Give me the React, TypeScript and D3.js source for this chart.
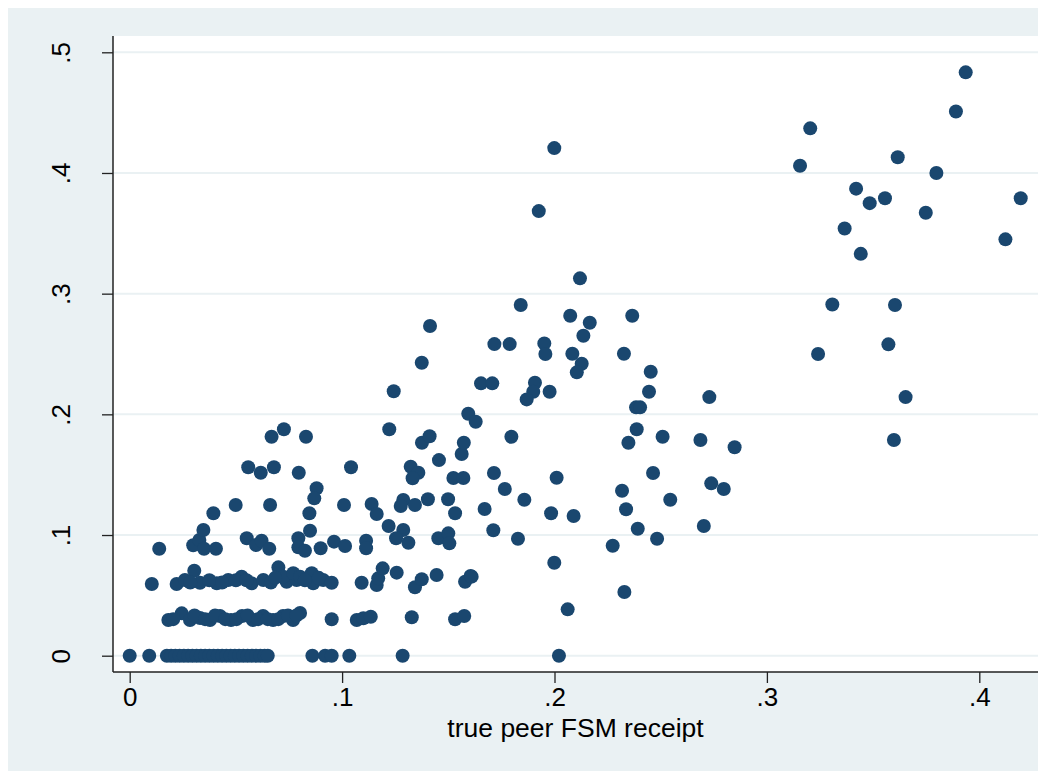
import React, { useRef, useEffect } from 'react';
import * as d3 from 'd3';

// points as [true peer FSM receipt, y]
const rowZero: number[][] = [
  [0, 0], [0.0092, 0], [0.0175, 0], [0.0195, 0], [0.0215, 0], [0.0235, 0], [0.0255, 0],
  [0.0275, 0], [0.0295, 0], [0.0315, 0], [0.0335, 0], [0.0355, 0], [0.0375, 0], [0.0395, 0],
  [0.0415, 0], [0.0435, 0], [0.0455, 0], [0.0475, 0], [0.0495, 0], [0.0515, 0], [0.0535, 0],
  [0.0555, 0], [0.0575, 0], [0.0595, 0], [0.0615, 0], [0.0635, 0], [0.065, 0],
  [0.086, 0], [0.092, 0], [0.0951, 0], [0.1034, 0], [0.1285, 0], [0.2021, 0],
];

const rowOne: number[][] = [
  [0.0182, 0.0296], [0.0245, 0.0351], [0.0284, 0.0296], [0.0331, 0.0312], [0.0378, 0.0296],
  [0.0425, 0.0329], [0.0477, 0.0296], [0.0529, 0.0329], [0.058, 0.0296], [0.0628, 0.0329],
  [0.0675, 0.0296], [0.0722, 0.0329], [0.0769, 0.0296], [0.0802, 0.0354], [0.0951, 0.0302],
  [0.1069, 0.0296], [0.11, 0.031], [0.1135, 0.0323], [0.1328, 0.0318], [0.1532, 0.0302],
  [0.1575, 0.0329], [0.0205, 0.0303], [0.0305, 0.0333], [0.0355, 0.0303], [0.0402, 0.0333],
  [0.045, 0.0303], [0.0503, 0.0303], [0.0555, 0.0333], [0.0605, 0.0303], [0.065, 0.0303],
  [0.07, 0.0303], [0.0745, 0.0333], [0.0785, 0.0333],
];

const rowTwo: number[][] = [
  [0.0104, 0.0594], [0.0221, 0.0594], [0.026, 0.0627], [0.0304, 0.0704], [0.0331, 0.0605],
  [0.041, 0.06], [0.0464, 0.0627], [0.0527, 0.0655], [0.0574, 0.06], [0.0629, 0.0627],
  [0.07, 0.0732], [0.0739, 0.0613], [0.0786, 0.0627], [0.0723, 0.0655], [0.077, 0.0683],
  [0.0802, 0.0655], [0.0857, 0.0683], [0.0864, 0.06], [0.0911, 0.0627], [0.0951, 0.0605],
  [0.1092, 0.0605], [0.1163, 0.0586], [0.117, 0.0641], [0.1191, 0.0724], [0.1257, 0.0688],
  [0.1343, 0.0567], [0.1375, 0.0633], [0.1445, 0.0669], [0.1579, 0.0613], [0.1605, 0.066],
  [0.0285, 0.0606], [0.0375, 0.0625], [0.0435, 0.0606], [0.05, 0.0625], [0.055, 0.0625],
  [0.0665, 0.0606], [0.0685, 0.0645], [0.0825, 0.0625], [0.089, 0.0645],
];

const lowLeft: number[][] = [
  [0.0139, 0.0886], [0.0299, 0.0915], [0.0328, 0.0959], [0.035, 0.0886], [0.0406, 0.0886],
  [0.0551, 0.0973], [0.0595, 0.0917], [0.0621, 0.0953], [0.0657, 0.0886], [0.0347, 0.1041],
  [0.0394, 0.118], [0.0499, 0.1249], [0.0661, 0.1249], [0.0558, 0.1561], [0.0617, 0.1516],
  [0.0679, 0.1561], [0.0668, 0.1814], [0.0726, 0.1876], [0.083, 0.1814], [0.0796, 0.1516],
  [0.088, 0.1387], [0.0869, 0.1304], [0.0846, 0.118], [0.0849, 0.1036], [0.0794, 0.0973],
  [0.0794, 0.0898], [0.0825, 0.087], [0.0899, 0.089], [0.0962, 0.0945], [0.1014, 0.0909],
  [0.1113, 0.0953], [0.1113, 0.089], [0.1009, 0.1249], [0.1042, 0.1561],
];

const middle: number[][] = [
  [0.1139, 0.1257], [0.1163, 0.1174], [0.1288, 0.129], [0.1276, 0.124], [0.1343, 0.1249],
  [0.1404, 0.1296], [0.1499, 0.1296], [0.1532, 0.118], [0.1219, 0.1075], [0.1288, 0.1041],
  [0.1254, 0.0973], [0.1312, 0.0936], [0.1453, 0.0973], [0.15, 0.1014], [0.1505, 0.0931],
  [0.1323, 0.1566], [0.1359, 0.1516], [0.1332, 0.147], [0.1524, 0.1472], [0.1571, 0.1472],
  [0.1456, 0.1621], [0.1563, 0.1671], [0.1573, 0.1765], [0.1376, 0.1765], [0.1412, 0.1818],
  [0.1222, 0.1876], [0.1594, 0.2005], [0.1629, 0.1939], [0.1243, 0.2191], [0.1375, 0.2428],
  [0.1414, 0.2732], [0.161, 0.0655], [0.1671, 0.1215], [0.1712, 0.1039], [0.1766, 0.1381],
  [0.1715, 0.1514], [0.1797, 0.1814], [0.1828, 0.0969], [0.1858, 0.1292], [0.1654, 0.2257],
  [0.1707, 0.2257], [0.1908, 0.2262], [0.19, 0.2187], [0.1869, 0.2124], [0.1977, 0.2187],
  [0.1717, 0.2582], [0.1789, 0.2582], [0.1841, 0.2906], [0.1926, 0.3684], [0.1999, 0.4206],
];

const rightSide: number[][] = [
  [0.1952, 0.2588], [0.1957, 0.25], [0.2084, 0.2502], [0.2074, 0.2817], [0.212, 0.3127],
  [0.2166, 0.2759], [0.2136, 0.2651], [0.2128, 0.2419], [0.2105, 0.2348], [0.2366, 0.2817],
  [0.2327, 0.2502], [0.2453, 0.2353], [0.2445, 0.2187], [0.2729, 0.2143], [0.2384, 0.2058],
  [0.2403, 0.2058], [0.2387, 0.1876], [0.2509, 0.1814], [0.2687, 0.1787], [0.2348, 0.1765],
  [0.2848, 0.1727], [0.2464, 0.1514], [0.201, 0.1475], [0.2318, 0.1367], [0.2738, 0.1428],
  [0.2797, 0.1381], [0.2545, 0.1292], [0.2337, 0.1213], [0.1984, 0.118], [0.209, 0.1157],
  [0.2392, 0.1052], [0.2703, 0.1075], [0.2483, 0.0969], [0.2274, 0.0911], [0.1999, 0.077],
  [0.2329, 0.0528], [0.2062, 0.0384],
];

const upper: number[][] = [
  [0.3936, 0.4834], [0.389, 0.451], [0.3204, 0.437], [0.3156, 0.406], [0.3616, 0.413],
  [0.3798, 0.4], [0.342, 0.387], [0.3484, 0.375], [0.3556, 0.379], [0.3748, 0.367],
  [0.4195, 0.379], [0.3366, 0.354], [0.4123, 0.345], [0.3442, 0.333], [0.3308, 0.291],
  [0.3603, 0.2906], [0.3241, 0.25], [0.3572, 0.258], [0.3653, 0.2143], [0.3598, 0.1787],
];

const xTicks = [0, 0.1, 0.2, 0.3, 0.4];
const yTicks = [0, 0.1, 0.2, 0.3, 0.4, 0.5];
const xTitle = 'true peer FSM receipt';

const fmt = (v: number) => (v === 0 ? '0' : d3.format('.1f')(v).replace(/^0/, ''));

export default function App() {
  const ref = useRef<SVGSVGElement>(null);
  const width = 1030, height = 763;

  useEffect(() => {
    const svg = d3.select(ref.current);
    svg.selectAll('*').remove();

    const plot = { left: 105, right: 1030, top: 28, bottom: 664 };
    const x = d3.scaleLinear().domain([0, 0.4]).range([121.7, 971.3]);
    const y = d3.scaleLinear().domain([0, 0.5]).range([647.7, 44.3]);
    const font = '"Liberation Sans", Arial, sans-serif';

    svg.append('rect').attr('width', width).attr('height', height).attr('fill', '#eaf1f3');
    svg.append('rect')
      .attr('x', plot.left).attr('y', plot.top)
      .attr('width', plot.right - plot.left).attr('height', plot.bottom - plot.top)
      .attr('fill', '#ffffff');

    // horizontal grid
    svg.append('g').selectAll('line').data(yTicks).join('line')
      .attr('x1', plot.left).attr('x2', plot.right)
      .attr('y1', d => y(d)).attr('y2', d => y(d))
      .attr('stroke', '#eaf1f3').attr('stroke-width', 2);

    const all = [...rowZero, ...rowOne, ...rowTwo, ...lowLeft, ...middle, ...rightSide, ...upper];
    svg.append('g').selectAll('circle').data(all).join('circle')
      .attr('cx', d => x(d[0]))
      .attr('cy', d => y(d[1]))
      .attr('r', 7)
      .attr('fill', '#1a476f');

    const xAxis = d3.axisBottom(x).tickValues(xTicks).tickFormat(d => fmt(+d)).tickSize(11).tickSizeOuter(0);
    const gx = svg.append('g').attr('transform', `translate(0,${plot.bottom})`).call(xAxis);
    gx.select('.domain').attr('d', `M${plot.left},0H${plot.right}`);
    gx.selectAll('line').attr('stroke', '#222').attr('stroke-width', 1.3);
    gx.select('.domain').attr('stroke', '#222').attr('stroke-width', 1.5);
    gx.selectAll('text').attr('font-family', font).attr('font-size', 26).attr('fill', '#000')
      .attr('y', 16).attr('dy', '0.71em');

    const yAxis = d3.axisLeft(y).tickValues(yTicks).tickFormat(d => fmt(+d)).tickSize(11).tickSizeOuter(0);
    const gy = svg.append('g').attr('transform', `translate(${plot.left},0)`).call(yAxis);
    gy.select('.domain').attr('d', `M0,${plot.top}V${plot.bottom}`);
    gy.selectAll('line').attr('stroke', '#222').attr('stroke-width', 1.3);
    gy.select('.domain').attr('stroke', '#222').attr('stroke-width', 1.5);
    gy.selectAll('text').attr('font-family', font).attr('font-size', 26).attr('fill', '#000')
      .attr('x', null).attr('dy', null)
      .attr('text-anchor', 'middle')
      .attr('transform', 'translate(-43,0) rotate(-90)');

    svg.append('text')
      .attr('x', (plot.left + plot.right) / 2).attr('y', 729)
      .attr('text-anchor', 'middle')
      .attr('font-family', font).attr('font-size', 26.5).attr('fill', '#000')
      .text(xTitle);
  }, []);

  return (
    <div>
      <svg width={width} height={height} ref={ref} style={{ display: 'block' }} />
    </div>
  );
}
